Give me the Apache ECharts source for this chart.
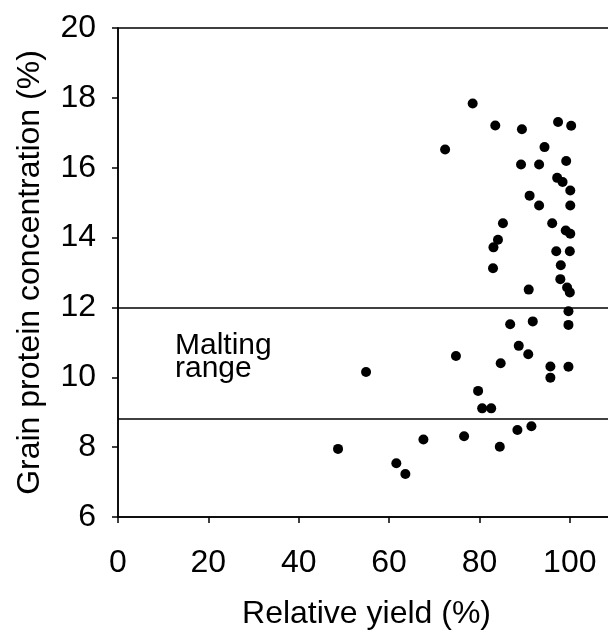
<!DOCTYPE html>
<html>
<head>
<meta charset="utf-8">
<script src="https://cdn.jsdelivr.net/npm/echarts@6/dist/echarts.min.js"></script>
<style>
html,body{margin:0;padding:0;background:#fff;}
#chart{width:608px;height:633px;}
</style>
</head>
<body>
<div id="chart"></div>
<script>
// Relative yield (%) and grain protein concentration (%) for each sample
const relativeYield = [
  78.5, 83.5, 89.4, 97.4, 100.3, 72.4, 94.4, 89.2, 93.2, 99.2,
  97.2, 98.4, 100.1, 91.1, 93.2, 100.1, 85.2, 96.1, 99.1, 100.1,
  84.1, 83.1, 97.0, 100.0, 83.0, 98.0, 97.9, 90.9, 99.4, 100.0,
  99.7, 86.8, 91.8, 99.7, 88.7, 90.8, 74.8, 84.7, 95.7, 95.7,
  99.7, 54.9, 79.7, 80.6, 82.6, 88.4, 91.5, 67.6, 76.6, 84.5,
  48.7, 61.6, 63.6
];
const grainProtein = [
  17.84, 17.21, 17.10, 17.31, 17.20, 16.52, 16.59, 16.09, 16.09, 16.19,
  15.71, 15.59, 15.35, 15.20, 14.92, 14.92, 14.41, 14.41, 14.20, 14.11,
  13.94, 13.72, 13.61, 13.61, 13.12, 13.21, 12.81, 12.51, 12.57, 12.43,
  11.89, 11.52, 11.60, 11.50, 10.90, 10.66, 10.61, 10.40, 10.31, 9.99,
  10.30, 10.15, 9.61, 9.11, 9.11, 8.49, 8.60, 8.22, 8.31, 8.01,
  7.95, 7.54, 7.23
];
// Malting range limits
const maltingLimits = [12, 8.8];
const maltingLabel = 'Malting\nrange';
const xTitle = 'Relative yield (%)';
const yTitle = 'Grain protein concentration (%)';

const FONT = '"Liberation Sans", Arial, Helvetica, sans-serif';
const points = relativeYield.map((x, i) => [x, grainProtein[i]]);

const chart = echarts.init(document.getElementById('chart'), null, {renderer: 'canvas'});
chart.setOption({
  animation: false,
  backgroundColor: '#fff',
  grid: {
    left: 118, top: 28, bottom: 116, right: -7,
    containLabel: false, outerBoundsMode: 'none',
    show: true, borderColor: '#000', borderWidth: 1.5, backgroundColor: 'transparent'
  },
  xAxis: {
    type: 'value', min: 0, max: 110, interval: 20,
    name: xTitle, nameLocation: 'middle', nameGap: 81,
    nameTextStyle: {fontFamily: FONT, fontSize: 32, color: '#000'},
    axisLine: {show: true, onZero: false, lineStyle: {color: '#000', width: 1.5}},
    axisTick: {show: true, inside: false, length: 6, lineStyle: {color: '#000', width: 1.5}},
    axisLabel: {fontFamily: FONT, fontSize: 32, color: '#000', margin: 30, showMaxLabel: false},
    splitLine: {show: false}
  },
  yAxis: {
    type: 'value', min: 6, max: 20, interval: 2,
    name: yTitle, nameLocation: 'middle', nameGap: 72, nameRotate: 90,
    nameTextStyle: {fontFamily: FONT, fontSize: 32, color: '#000'},
    axisLine: {show: true, onZero: false, lineStyle: {color: '#000', width: 1.5}},
    axisTick: {show: true, inside: false, length: 6, lineStyle: {color: '#000', width: 1.5}},
    axisLabel: {fontFamily: FONT, fontSize: 32, color: '#000', margin: 22},
    splitLine: {show: false}
  },
  series: [{
    type: 'scatter',
    data: points,
    symbol: 'circle',
    symbolSize: 10,
    itemStyle: {color: '#000', opacity: 1},
    markLine: {
      silent: true,
      symbol: ['none', 'none'],
      label: {show: false},
      lineStyle: {color: '#000', width: 1.5, type: 'solid'},
      data: maltingLimits.map(v => ({yAxis: v}))
    }
  }],
  graphic: [{
    type: 'text',
    left: 175, top: 331,
    style: {
      text: maltingLabel,
      font: '30px ' + FONT,
      lineHeight: 23,
      fill: '#000'
    }
  }]
});
</script>
</body>
</html>
